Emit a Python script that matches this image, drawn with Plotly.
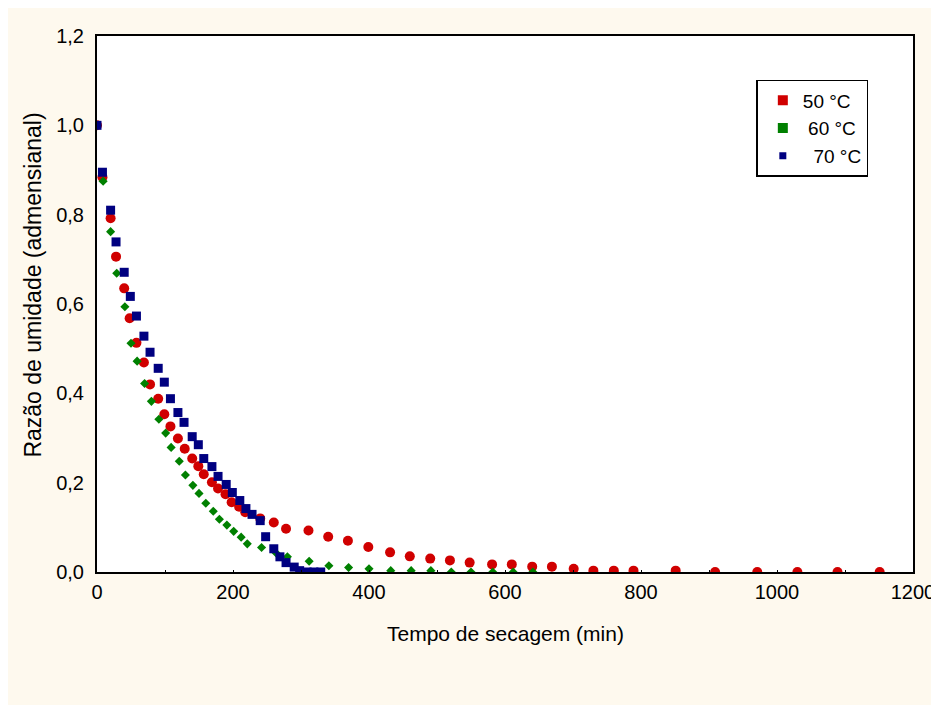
import plotly.graph_objects as go

# 50 °C
t50 = [0, 8, 20, 28, 40, 48, 58, 69, 78, 90, 99, 108, 119, 129, 140, 149, 157, 169, 178, 189,
       198, 209, 218, 240, 260, 278, 311, 340, 369, 399, 431, 460, 490, 519, 548, 581, 610, 640, 669, 701,
       730, 760, 789, 851, 909, 971, 1030, 1089, 1151]
mr50 = [1.0, 0.884, 0.792, 0.706, 0.635, 0.568, 0.513, 0.469, 0.420, 0.388, 0.353, 0.326, 0.299, 0.276, 0.254, 0.237, 0.219, 0.201, 0.187, 0.174,
        0.156, 0.146, 0.134, 0.120, 0.111, 0.097, 0.093, 0.079, 0.070, 0.056, 0.044, 0.035, 0.030, 0.026, 0.021, 0.017, 0.017, 0.012, 0.012, 0.007,
        0.003, 0.003, 0.003, 0.003, 0, 0, 0, 0, 0]

# 60 °C
t60 = [0, 9, 20, 29, 41, 50, 59, 70, 80, 91, 101, 109, 121, 130, 141, 150, 160, 171, 180, 191,
       201, 212, 221, 242, 263, 280, 312, 341, 370, 400, 432, 462, 491, 521, 550, 582, 612, 641]
mr60 = [1.0, 0.875, 0.762, 0.669, 0.594, 0.512, 0.472, 0.422, 0.382, 0.342, 0.311, 0.279, 0.248, 0.217, 0.194, 0.176, 0.154, 0.136, 0.118, 0.105,
        0.091, 0.078, 0.063, 0.055, 0.043, 0.034, 0.024, 0.014, 0.010, 0.007, 0.003, 0.003, 0.003, 0, 0, 0, 0, 0]

# 70 °C
t70 = [0, 8, 20, 28, 40, 49, 58, 69, 78, 90, 99, 108, 119, 128, 140, 149, 157, 169, 178, 190,
       199, 210, 219, 228, 240, 248, 260, 269, 278, 290, 298, 309, 319, 329]
mr70 = [1.0, 0.895, 0.810, 0.739, 0.671, 0.617, 0.573, 0.528, 0.492, 0.456, 0.425, 0.388, 0.357, 0.335, 0.303, 0.285, 0.254, 0.236, 0.214, 0.196,
        0.178, 0.160, 0.142, 0.129, 0.115, 0.079, 0.052, 0.034, 0.021, 0.011, 0.003, 0, 0, 0]

series_names = ["50 °C", "\u00a060 °C", "\u00a0\u00a070 °C"]
x_title = "Tempo de secagem (min)"
y_title = "Razão de umidade (admensianal)"

RED = "#d00000"
GREEN = "#008000"
BLUE = "#000080"
CREAM = "#fef9ee"
FONT = "Liberation Sans, Arial, sans-serif"

fig = go.Figure()
fig.add_trace(go.Scatter(x=t50, y=mr50, mode="markers", showlegend=False,
                         marker=dict(symbol="circle", size=10, color=RED)))
fig.add_trace(go.Scatter(x=t60, y=mr60, mode="markers", showlegend=False,
                         marker=dict(symbol="diamond", size=7, color=GREEN)))
fig.add_trace(go.Scatter(x=t70, y=mr70, mode="markers", showlegend=False,
                         marker=dict(symbol="square", size=9, color=BLUE)))

# legend entries (squares, like the reference legend)
for name, col, sz in zip(series_names, [RED, GREEN, BLUE], [10, 10, 7]):
    fig.add_trace(go.Scatter(x=[None], y=[None], mode="markers", name=name,
                             marker=dict(symbol="square", size=sz, color=col)))

fig.update_layout(
    width=939, height=697,
    margin=dict(l=89, r=32, t=28, b=133),
    paper_bgcolor=CREAM,
    plot_bgcolor="white",
    separators=", ",
    font=dict(family=FONT, size=20, color="black"),
    showlegend=True,
    legend=dict(x=0.808, y=0.918, xanchor="left", yanchor="top",
                bgcolor="white", bordercolor="black", borderwidth=1.5,
                font=dict(size=19), itemsizing="trace", entrywidth=84, indentation=5),
    annotations=[
        dict(text=x_title, xref="paper", yref="paper", x=0.5, y=-0.1144,
             xanchor="center", yanchor="middle", showarrow=False, font=dict(size=21)),
        dict(text=y_title, xref="paper", yref="paper", x=-0.078, y=0.535, textangle=-90,
             xanchor="center", yanchor="middle", showarrow=False, font=dict(size=23)),
    ],
)

fig.update_xaxes(range=[0, 1200], dtick=200, tick0=0, showgrid=False, zeroline=False,
                 showline=True, linecolor="black", linewidth=2, mirror=True,
                 ticks="inside", ticklen=2, tickcolor="black", ticklabelstandoff=1,
                 minor=dict(dtick=100, ticks="inside", ticklen=2, tickcolor="black"))
fig.update_yaxes(range=[0, 1.2], dtick=0.2, tick0=0, tickformat=".1f", showgrid=False, zeroline=False,
                 showline=True, linecolor="black", linewidth=2, mirror=True,
                 ticks="", ticklabelstandoff=7)

fig.write_html("out.html")
